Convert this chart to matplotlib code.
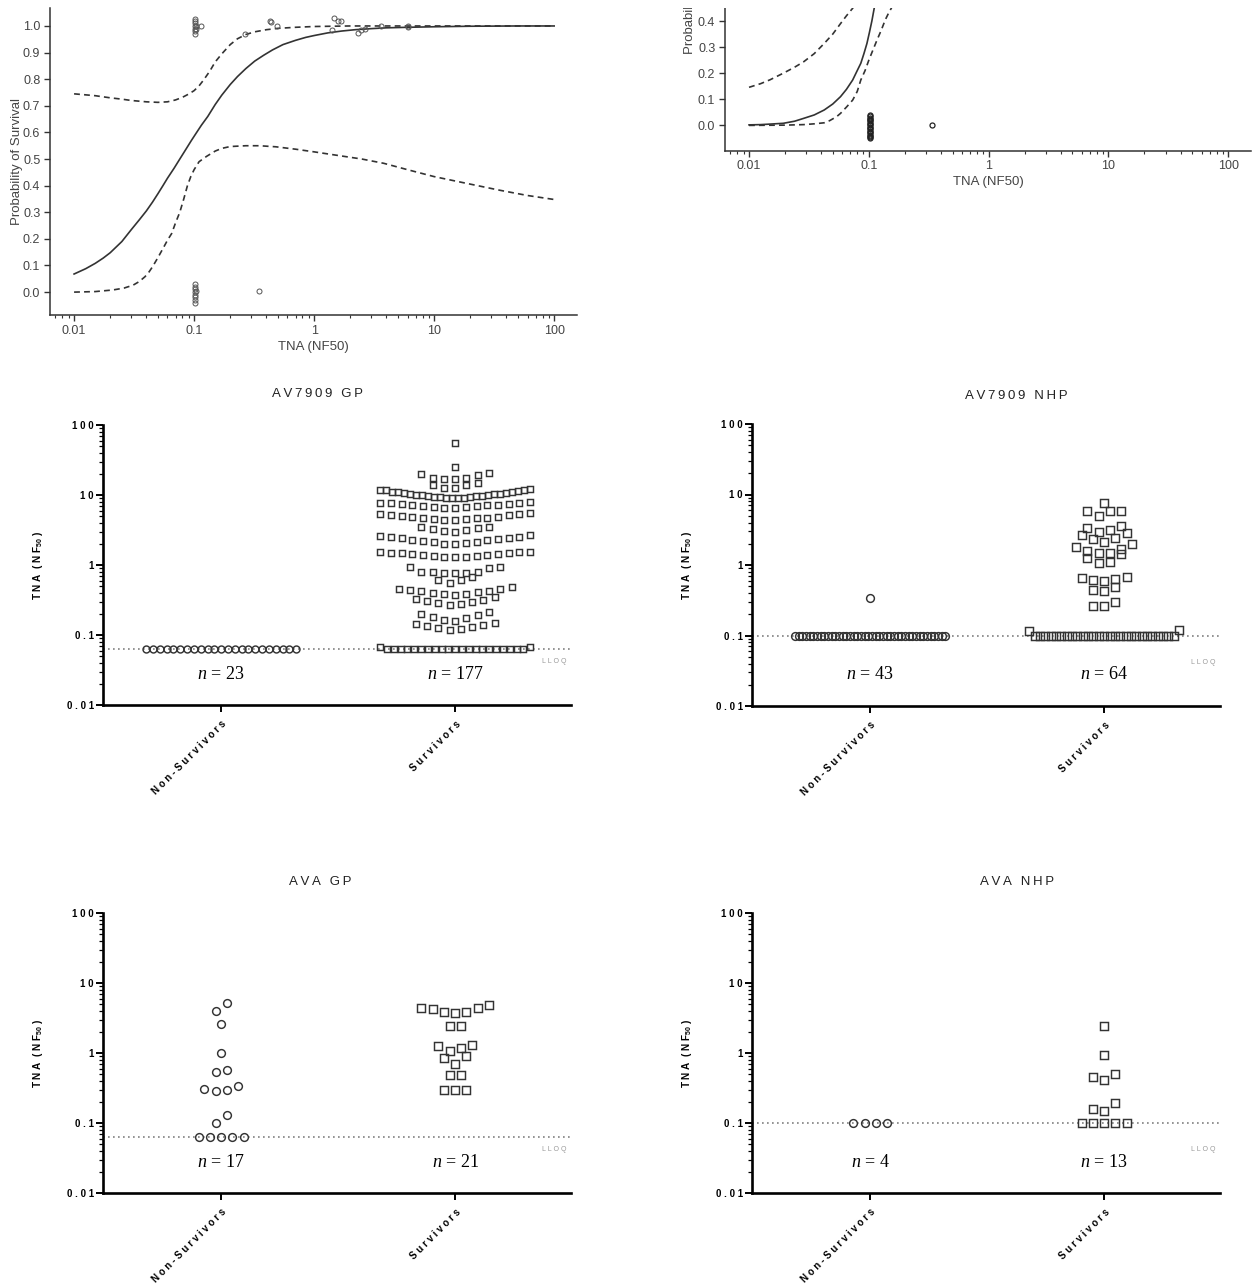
import numpy as np
import matplotlib
matplotlib.use('Agg')
import matplotlib.pyplot as plt
from matplotlib.patches import Rectangle
from matplotlib.ticker import LogLocator, FixedLocator, FixedFormatter, NullFormatter
import matplotlib.transforms as mtransforms

plt.rcParams['font.family'] = ['Liberation Sans', 'DejaVu Sans']
plt.rcParams['mathtext.fontset'] = 'custom'
plt.rcParams['mathtext.rm'] = 'Liberation Serif'
plt.rcParams['mathtext.it'] = 'Liberation Serif:italic'
plt.rcParams['mathtext.bf'] = 'Liberation Sans:bold'

# ---------------- data: top-left logistic panel ----------------
tl_fit_x = [0.01, 0.0125, 0.015, 0.0175, 0.02, 0.025, 0.03, 0.035, 0.04, 0.045, 0.05, 0.055,
            0.06, 0.068, 0.076, 0.085, 0.095, 0.105, 0.115, 0.13, 0.15, 0.17, 0.2, 0.23, 0.27,
            0.32, 0.38, 0.45, 0.55, 0.7, 0.85, 1, 1.3, 1.7, 2.2, 3, 4, 6, 10, 20, 50, 100]
tl_fit_y = [0.068, 0.088, 0.108, 0.128, 0.148, 0.19, 0.235, 0.272, 0.305, 0.338, 0.37, 0.40,
            0.428, 0.465, 0.50, 0.535, 0.57, 0.60, 0.627, 0.66, 0.705, 0.74, 0.78, 0.81, 0.84,
            0.868, 0.89, 0.91, 0.93, 0.946, 0.957, 0.964, 0.974, 0.981, 0.986, 0.99, 0.993,
            0.995, 0.997, 0.999, 1.0, 1.0]
tl_hi_x = [0.01, 0.015, 0.02, 0.025, 0.03, 0.04, 0.05, 0.06, 0.07, 0.08, 0.09, 0.1, 0.11,
           0.12, 0.135, 0.15, 0.17, 0.2, 0.23, 0.27, 0.32, 0.4, 0.5, 0.7, 1, 2, 100]
tl_hi_y = [0.745, 0.738, 0.730, 0.725, 0.720, 0.715, 0.713, 0.715, 0.722, 0.732, 0.744, 0.757,
           0.775, 0.797, 0.83, 0.865, 0.895, 0.93, 0.952, 0.968, 0.978, 0.986, 0.991, 0.995,
           0.998, 1.0, 1.0]
tl_lo_x = [0.01, 0.015, 0.021, 0.026, 0.031, 0.035, 0.039, 0.042, 0.045, 0.05, 0.056, 0.06,
           0.065, 0.07, 0.076, 0.082, 0.088, 0.094, 0.1, 0.11, 0.127, 0.15, 0.17, 0.2, 0.27,
           0.35, 0.48, 0.7, 1, 1.5, 2.5, 3.8, 6, 10, 18, 35, 60, 100]
tl_lo_y = [0.0, 0.002, 0.008, 0.015, 0.026, 0.04, 0.058, 0.075, 0.095, 0.13, 0.17, 0.195,
           0.22, 0.26, 0.30, 0.35, 0.40, 0.435, 0.46, 0.49, 0.51, 0.53, 0.54, 0.547, 0.55,
           0.55, 0.546, 0.537, 0.527, 0.515, 0.50, 0.484, 0.46, 0.434, 0.41, 0.383, 0.363, 0.348]
tl_pts_x = [0.102, 0.102, 0.102, 0.102, 0.102, 0.102, 0.102, 0.104, 0.104, 0.115, 0.268, 0.43,
            0.44, 0.49, 1.42, 1.47, 1.57, 1.67, 2.3, 2.45, 2.65, 3.6, 6.0, 6.0,
            0.102, 0.102, 0.102, 0.102, 0.102, 0.102, 0.102, 0.102, 0.104, 0.345]
tl_pts_y = [0.97, 0.98, 0.99, 1.0, 1.01, 1.02, 1.025, 1.0, 0.99, 1.0, 0.97, 1.02,
            1.015, 1.0, 0.985, 1.03, 1.02, 1.02, 0.975, 0.985, 0.99, 1.0, 1.0, 0.995,
            0.03, 0.02, 0.01, 0.0, -0.01, -0.02, -0.03, -0.04, 0.005, 0.005]

# ---------------- data: top-right logistic panel (cropped) ----------------
tr_fit_x = [0.01, 0.0125, 0.015, 0.0193, 0.024, 0.0286, 0.035, 0.0424, 0.05, 0.058, 0.065,
            0.0733, 0.08, 0.0857, 0.091, 0.0964, 0.101, 0.106, 0.112]
tr_fit_y = [0.002, 0.003, 0.005, 0.008, 0.016, 0.027, 0.04, 0.059, 0.082, 0.11, 0.138,
            0.174, 0.21, 0.238, 0.275, 0.314, 0.355, 0.40, 0.46]
tr_hi_x = [0.01, 0.0125, 0.015, 0.0193, 0.024, 0.0286, 0.035, 0.0424, 0.05, 0.058, 0.065,
           0.0733, 0.08]
tr_hi_y = [0.146, 0.16, 0.175, 0.20, 0.223, 0.244, 0.275, 0.314, 0.35, 0.39, 0.42, 0.449, 0.48]
tr_lo_x = [0.01, 0.02, 0.0286, 0.035, 0.0424, 0.047, 0.05, 0.054, 0.058, 0.065, 0.0733, 0.08,
           0.0857, 0.093, 0.1, 0.108, 0.117, 0.127, 0.137, 0.146, 0.154, 0.165]
tr_lo_y = [0.0, 0.001, 0.003, 0.006, 0.01, 0.018, 0.025, 0.034, 0.046, 0.07, 0.097, 0.13,
           0.174, 0.21, 0.25, 0.288, 0.327, 0.365, 0.404, 0.43, 0.449, 0.48]
tr_pts_y = [-0.05, -0.045, -0.04, -0.035, -0.03, -0.025, -0.02, -0.015, -0.01, -0.005, 0.0,
            0.005, 0.01, 0.015, 0.02, 0.025, 0.03, 0.035, 0.04, 0.0]
tr_pts_x = [0.102] * 19 + [0.34]

# ---------------- data: scatter panels (TNA NF50) ----------------
categories = ['Non-Survivors', 'Survivors']

gp_lloq = 0.063
nhp_lloq = 0.1

av7909_gp_nonsurv = [0.063] * 23
av7909_gp_surv = ([55, 25, 20.5, 20, 19.5, 17.5, 17.5, 17, 17, 14.7, 13.8, 13.8, 12.6, 12.6,
                   12.0, 11.8, 11.8, 11.6, 11.4, 11.2, 11.0, 10.9, 10.8, 10.6, 10.5, 10.4, 10.2,
                   10.1, 10.0, 9.9, 9.8, 9.7, 9.6, 9.5, 9.4, 9.3, 9.2, 9.2, 9.1, 9.0,
                   7.9, 7.8, 7.7, 7.6, 7.5, 7.4, 7.3, 7.2, 7.1, 7.0, 6.9, 6.8, 6.7, 6.6, 6.5,
                   5.5, 5.4, 5.3, 5.2, 5.1, 5.0, 4.9, 4.8, 4.75, 4.7, 4.65, 4.6, 4.5, 4.45, 4.4,
                   3.5, 3.45, 3.35, 3.25, 3.15, 3.05, 3.0,
                   2.65, 2.6, 2.55, 2.5, 2.45, 2.4, 2.35, 2.3, 2.25, 2.2, 2.15, 2.1, 2.05, 2.0, 2.0,
                   1.55, 1.54, 1.52, 1.5, 1.48, 1.46, 1.44, 1.42, 1.4, 1.38, 1.36, 1.34, 1.32, 1.3, 1.3,
                   0.93, 0.93, 0.91, 0.79, 0.79, 0.79, 0.77, 0.77, 0.77,
                   0.68, 0.62, 0.62, 0.55,
                   0.48, 0.46, 0.45, 0.44, 0.43, 0.42, 0.41, 0.4, 0.39, 0.38, 0.37,
                   0.35, 0.33, 0.32, 0.31, 0.3, 0.29, 0.28, 0.27,
                   0.21, 0.2, 0.19, 0.18, 0.175, 0.165, 0.16,
                   0.148, 0.145, 0.14, 0.135, 0.13, 0.125, 0.12, 0.118,
                   0.068, 0.067] + [0.063] * 21)

av7909_nhp_nonsurv = [0.34] + [0.1] * 42
av7909_nhp_surv = ([7.7, 5.8, 5.8, 5.8, 4.9, 3.6, 3.3, 3.1, 2.9, 2.8, 2.7, 2.4, 2.3, 2.1, 2.0,
                    1.8, 1.7, 1.6, 1.5, 1.5, 1.43, 1.26, 1.1, 1.07, 0.68, 0.65, 0.63, 0.61, 0.6,
                    0.49, 0.44, 0.43, 0.30, 0.26, 0.26, 0.12, 0.115] + [0.1] * 27)

ava_gp_nonsurv = [5.2, 4.0, 2.6, 1.0, 0.57, 0.54, 0.34, 0.31, 0.30, 0.29, 0.13, 0.1,
                  0.063, 0.063, 0.063, 0.063, 0.063]
ava_gp_surv = [4.9, 4.4, 4.4, 4.3, 3.9, 3.9, 3.7, 2.4, 2.4, 1.3, 1.26, 1.18, 1.07, 0.91,
               0.85, 0.7, 0.49, 0.49, 0.3, 0.3, 0.3]

ava_nhp_nonsurv = [0.1] * 4
ava_nhp_surv = [2.4, 0.93, 0.5, 0.45, 0.41, 0.19, 0.16, 0.148, 0.1, 0.1, 0.1, 0.1, 0.1]

# ---------------- figure ----------------
W, H = 1254, 1284
fig = plt.figure(figsize=(W / 100, H / 100), dpi=100)
fig.patch.set_facecolor('white')


def rect(x0, y0, x1, y1):
    """pixel box (top-left origin) -> figure fraction rect"""
    return [x0 / W, 1 - y1 / H, (x1 - x0) / W, (y1 - y0) / H]


def spaced(s, sep=' '):
    return sep.join(list(s))


CURVE = '#333333'
GRAYTXT = '#444444'


def style_logistic(ax, ylo, yticks):
    ax.set_xscale('log')
    ax.set_xlim(0.0063, 155)
    ax.set_ylim(ylo, 1.066)
    for s in ['top', 'right']:
        ax.spines[s].set_visible(False)
    for s in ['left', 'bottom']:
        ax.spines[s].set_color('#333333')
        ax.spines[s].set_linewidth(1.1)
    ax.xaxis.set_major_locator(FixedLocator([0.01, 0.1, 1, 10, 100]))
    ax.xaxis.set_major_formatter(FixedFormatter(['0.01', '0.1', '1', '10', '100']))
    ax.xaxis.set_minor_locator(LogLocator(base=10, subs=np.arange(2, 10)))
    ax.xaxis.set_minor_formatter(NullFormatter())
    ax.yaxis.set_major_locator(FixedLocator(yticks))
    ax.yaxis.set_major_formatter(FixedFormatter(['%.1f' % v for v in yticks]))
    ax.tick_params(which='major', direction='out', length=4, width=1.0, color='#333333',
                   labelsize=9, labelcolor=GRAYTXT, pad=3)
    ax.tick_params(which='minor', direction='out', length=2.5, width=0.8, color='#333333')
    ax.set_xlabel('TNA (NF50)', fontsize=9.5, color=GRAYTXT)
    ax.set_ylabel('Probability of Survival', fontsize=9.5, color=GRAYTXT)


# --- top-left
ax_tl = fig.add_axes(rect(50, 8.4, 577, 315))
style_logistic(ax_tl, -0.086, [0.0, 0.1, 0.2, 0.3, 0.4, 0.5, 0.6, 0.7, 0.8, 0.9, 1.0])
ax_tl.plot(tl_fit_x, tl_fit_y, color=CURVE, lw=1.2)
ax_tl.plot(tl_hi_x, tl_hi_y, color=CURVE, lw=1.2, ls=(0, (3.5, 2.5)))
ax_tl.plot(tl_lo_x, tl_lo_y, color=CURVE, lw=1.2, ls=(0, (3.5, 2.5)))
ax_tl.plot(tl_pts_x, tl_pts_y, ls='none', marker='o', ms=3.6, mfc='none', mec='#555555', mew=0.7)
ax_tl.yaxis.set_label_coords(-27 / 527, 0.5)
ax_tl.xaxis.set_label_coords(0.5, -26 / 307)

# --- top-right (cropped at top in the reference; only 0.0-0.4 visible)
ax_tr = fig.add_axes(rect(725, -152.7, 1251, 150.7))
style_logistic(ax_tr, -0.097, [0.0, 0.1, 0.2, 0.3, 0.4])
ax_tr.plot(tr_fit_x, tr_fit_y, color=CURVE, lw=1.2)
ax_tr.plot(tr_hi_x, tr_hi_y, color=CURVE, lw=1.2, ls=(0, (3.5, 2.5)))
ax_tr.plot(tr_lo_x, tr_lo_y, color=CURVE, lw=1.2, ls=(0, (3.5, 2.5)))
ax_tr.plot(tr_pts_x, tr_pts_y, ls='none', marker='o', ms=3.6, mfc='none', mec='#222222', mew=0.9)
ax_tr.yaxis.set_label_coords(-29 / 526, 0.5 + 9 / 303.4)
ax_tr.xaxis.set_label_coords(0.5, -25 / 303.4)
fig.add_artist(Rectangle((0.5, 1 - 8 / H), 0.5, 8 / H + 0.01, transform=fig.transFigure,
                         facecolor='white', edgecolor='none', zorder=100))


# --- scatter (dot-plot) panels
def swarm_x(ax, values, center, pitch_px=11.3, span_px=150.0, bin_px=9.0):
    x0, x1 = ax.get_xlim()
    y0, y1 = ax.get_ylim()
    ppu = ax.bbox.width / (x1 - x0)
    ppd = ax.bbox.height / (np.log10(y1) - np.log10(y0))
    v = np.asarray(values, dtype=float)
    ly = np.log10(v) * ppd
    order = np.argsort(ly, kind='stable')
    xs = np.full(len(v), float(center))
    n = len(v)
    i = 0
    while i < n:
        start = ly[order[i]]
        j = i
        while j < n and ly[order[j]] - start <= bin_px + 1e-9:
            j += 1
        grp = order[i:j]
        m = len(grp)
        if m > 1:
            step = min(pitch_px, span_px / (m - 1))
            slots = (np.arange(m) - (m - 1) / 2.0) * step
            seq = slots[np.argsort(np.abs(slots), kind='stable')]
            xs[grp] = center + seq / ppu
        i = j
    return xs


def dot_panel(box, title, title_xy, nonsurv, surv, lloq, ms_c, ms_s):
    ax = fig.add_axes(rect(*box))
    ax.set_yscale('log')
    ax.set_ylim(0.01, 100)
    ax.set_xlim(-0.505, 1.495)
    for s in ['top', 'right']:
        ax.spines[s].set_visible(False)
    for s in ['left', 'bottom']:
        ax.spines[s].set_linewidth(1.9)
        ax.spines[s].set_color('black')
    ax.yaxis.set_major_locator(FixedLocator([0.01, 0.1, 1, 10, 100]))
    ax.yaxis.set_major_formatter(FixedFormatter([spaced(t) for t in ['0.01', '0.1', '1', '10', '100']]))
    ax.yaxis.set_minor_locator(LogLocator(base=10, subs=np.arange(2, 10)))
    ax.yaxis.set_minor_formatter(NullFormatter())
    ax.set_xticks([0, 1])
    ax.set_xticklabels([spaced(c) for c in categories], rotation=45, ha='right',
                       rotation_mode='anchor', fontweight='bold', fontsize=7)
    ax.tick_params(axis='y', which='major', length=5, width=1.4, labelsize=7, pad=1.5)
    ax.tick_params(axis='y', which='minor', length=3, width=0.9)
    ax.tick_params(axis='x', which='major', length=5, width=1.4, pad=5)
    for lab in ax.get_yticklabels():
        lab.set_fontweight('bold')
    ax.set_ylabel(spaced('TNA') + '  ( ' + spaced('NF') + r'$_{\mathbf{50}}$ )',
                  fontsize=7.2, fontweight='bold')
    ax.yaxis.set_label_coords(-58 / 468, 0.5)

    ax.axhline(lloq, color='#808080', lw=1.2, ls=(0, (1, 2)), zorder=1)

    xn = swarm_x(ax, nonsurv, 0)
    xs = swarm_x(ax, surv, 1)
    ax.plot(xn, nonsurv, ls='none', marker='o', ms=ms_c, mfc='none', mec='#333333', mew=1.05,
            zorder=3, clip_on=False)
    ax.plot(xs, surv, ls='none', marker='s', ms=ms_s, mfc='none', mec='#333333', mew=1.05,
            zorder=3, clip_on=False)

    trans = mtransforms.blended_transform_factory(ax.transData, ax.transAxes)
    for xc, grp in zip([0, 1], [nonsurv, surv]):
        ax.text(xc, 0.11, r'$n$ = %d' % len(grp), transform=trans, ha='center', va='center',
                fontsize=13, family='Liberation Serif')
    ax.text(0.99, 0.042, spaced('LLOQ'), transform=mtransforms.blended_transform_factory(
        ax.transAxes, ax.transData), ha='right', va='center', fontsize=5, color='#9a9a9a')

    fig.text(title_xy[0] / W, 1 - title_xy[1] / H, spaced(title, '\u2009'), ha='center',
             va='center', fontsize=9.5, color='#222222')
    return ax


dot_panel((103, 425, 571, 705), 'AV7909 GP', (318, 394), av7909_gp_nonsurv, av7909_gp_surv,
          gp_lloq, 5.0, 5.0)
dot_panel((752, 424, 1220, 706), 'AV7909 NHP', (1016, 396), av7909_nhp_nonsurv, av7909_nhp_surv,
          nhp_lloq, 5.6, 5.6)
dot_panel((103, 913, 571, 1193), 'AVA GP', (320, 882), ava_gp_nonsurv, ava_gp_surv,
          gp_lloq, 5.6, 5.6)
dot_panel((752, 913, 1220, 1193), 'AVA NHP', (1017, 882), ava_nhp_nonsurv, ava_nhp_surv,
          nhp_lloq, 5.6, 5.6)

fig.savefig('out.png', dpi=100, facecolor='white')
